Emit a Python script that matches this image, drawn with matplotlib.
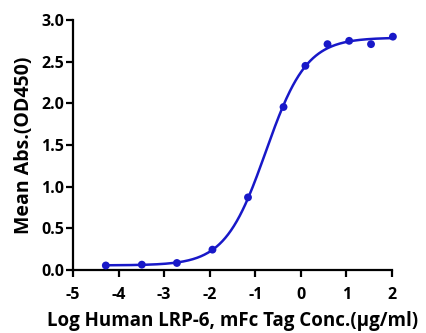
import numpy as np
import matplotlib
matplotlib.use("Agg")
import matplotlib.pyplot as plt

# Data (log10 concentration, mean OD450)
log_conc = [-4.28, -3.49, -2.72, -1.94, -1.16, -0.38, 0.10, 0.585, 1.06, 1.54, 2.02]
mean_abs = [0.055, 0.065, 0.085, 0.245, 0.872, 1.956, 2.45, 2.71, 2.75, 2.71, 2.80]

x_ticks = [-5, -4, -3, -2, -1, 0, 1, 2]
y_ticks = [0.0, 0.5, 1.0, 1.5, 2.0, 2.5, 3.0]

xd = np.array(log_conc)
yd = np.array(mean_abs)

def model(p, x):
    bottom, top, logec50, hill = p
    return bottom + (top - bottom) / (1 + 10 ** ((logec50 - x) * hill))

# simple Levenberg-Marquardt 4PL fit
p = np.array([yd.min(), yd.max(), -0.8, 1.0])
lam = 1e-2
for _ in range(500):
    r = yd - model(p, xd)
    J = np.zeros((len(xd), 4))
    for i in range(4):
        dp = np.zeros(4); dp[i] = 1e-6
        J[:, i] = (model(p + dp, xd) - model(p - dp, xd)) / 2e-6
    A = J.T @ J
    g = J.T @ r
    step = np.linalg.solve(A + lam * np.diag(np.diag(A)), g)
    pn = p + step
    if np.sum((yd - model(pn, xd)) ** 2) < np.sum(r ** 2):
        p = pn; lam *= 0.5
    else:
        lam *= 4

color = "#1818c8"
plt.rcParams['font.family'] = ['Open Sans', 'DejaVu Sans']
plt.rcParams['font.weight'] = 'bold'

fig = plt.figure(figsize=(4.27, 3.33), dpi=100)
ax = fig.add_axes([0.171, 0.189, 0.747, 0.751])

xf = np.linspace(xd.min(), xd.max(), 400)
ax.plot(xf, model(p, xf), color=color, lw=1.8, zorder=2)
ax.scatter(xd, yd, s=32, color=color, zorder=3, edgecolors='none', clip_on=False)

ax.set_xlim(-5, 2)
ax.set_ylim(0, 3.0)
ax.set_xticks(x_ticks)
ax.set_yticks(y_ticks)
ax.set_xticklabels([str(t) for t in x_ticks])
ax.set_yticklabels([f"{t:.1f}" for t in y_ticks])
for s in ['top', 'right']:
    ax.spines[s].set_visible(False)
for s in ['left', 'bottom']:
    ax.spines[s].set_linewidth(1.6)
ax.tick_params(axis='both', width=1.6, length=4.8, labelsize=11.5)
ax.tick_params(axis='y', pad=1.5)
ax.tick_params(axis='x', pad=7.5)
for lab in ax.get_xticklabels() + ax.get_yticklabels():
    lab.set_fontweight('bold')

ax.set_xlabel("Log Human LRP-6, mFc Tag Conc.(μg/ml)", fontsize=13.5, fontweight='bold', labelpad=6)
ax.set_ylabel("Mean Abs.(OD450)", fontsize=14, fontweight='bold', labelpad=5)

fig.savefig("out.png", dpi=100)
